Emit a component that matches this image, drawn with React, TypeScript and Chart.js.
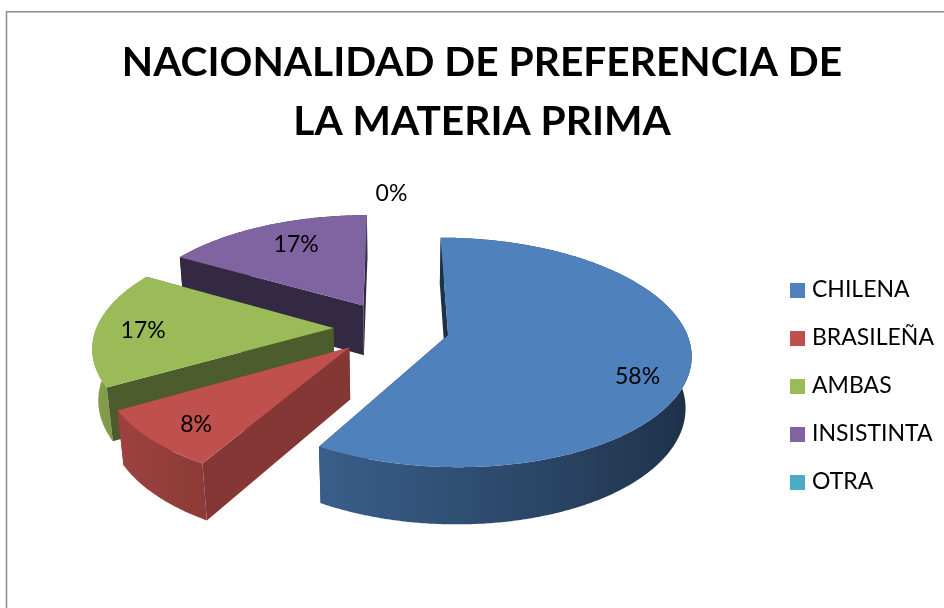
import React, { useEffect, useRef } from "react";
import { Chart, registerables } from "chart.js";

Chart.register(...registerables);

const titleLines = ["NACIONALIDAD DE PREFERENCIA DE", "LA MATERIA PRIMA"];
const categories = ["CHILENA", "BRASILEÑA", "AMBAS", "INSISTINTA", "OTRA"];
const responses = [7, 1, 2, 2, 0];
const sliceColors = ["#4f81bd", "#c0504d", "#9bbb59", "#8064a2", "#4bacc6"];

const FONT = "Lato, Carlito, Calibri, sans-serif";

// 3D view of the disc
const VIEW = { cx: 391.5, cy: 328, rx: 237, ry: 110, persp: 0.15, explode: 0.245, depth: 52, depthPersp: 0.02 };
const wallShade = [0.38, 0.69, 0.49, 0.41];
const labelRadius = [0.816, 0.82, 0.8, 0.726, 1.25];
const labelTurnDeg = [10.4, -2.4, -1.5, 2.8, 0];

function rgb(hex: string, f: number) {
  const n = parseInt(hex.slice(1), 16);
  const c = [(n >> 16) & 255, (n >> 8) & 255, n & 255].map((v) => Math.round(v * f));
  return `rgb(${c[0]},${c[1]},${c[2]})`;
}

function project(mid: number, a: number, r: number, z: number) {
  const X = VIEW.explode * Math.sin(mid) + r * Math.sin(a);
  const V = -VIEW.explode * Math.cos(mid) - r * Math.cos(a);
  const den = 1 - VIEW.persp * V + VIEW.depthPersp * z;
  return { x: VIEW.cx + (VIEW.rx * X) / den, y: VIEW.cy + (VIEW.ry * V + VIEW.depth * z) / den };
}

function poly(ctx: CanvasRenderingContext2D, pts: { x: number; y: number }[], fill: any) {
  ctx.beginPath();
  pts.forEach((p, i) => (i ? ctx.lineTo(p.x, p.y) : ctx.moveTo(p.x, p.y)));
  ctx.closePath();
  ctx.fillStyle = fill;
  ctx.fill();
}

function rimFill(ctx: CanvasRenderingContext2D, s: any, color: string) {
  const samples: { x: number; a: number }[] = [];
  const step = Math.PI / 90;
  for (let a = s.start; a <= s.end + 1e-6; a += step) {
    if (a >= Math.PI / 2 && a <= (3 * Math.PI) / 2) samples.push({ x: project(s.mid, a, 1, 1).x, a });
  }
  if (samples.length < 2) return rgb(color, 0.5);
  samples.sort((p, q) => p.x - q.x);
  const min = samples[0].x;
  const max = samples[samples.length - 1].x;
  const g = ctx.createLinearGradient(min, 0, max, 0);
  samples.forEach((p) => {
    g.addColorStop((p.x - min) / (max - min), rgb(color, 0.37 + 0.48 * ((1 - Math.sin(p.a)) / 2)));
  });
  return g;
}

const pie3d = {
  id: "pie3d",
  beforeDraw(chart: any) {
    const { ctx } = chart;
    ctx.save();
    ctx.strokeStyle = "#8c8c8c";
    ctx.lineWidth = 1.5;
    ctx.beginPath();
    ctx.moveTo(6.5, 700);
    ctx.lineTo(6.5, 11.75);
    ctx.lineTo(1000, 11.75);
    ctx.stroke();
    ctx.restore();
  },
  afterLayout(chart: any) {
    chart.legend.left = 769.5;
    chart.legend.top = 253.5;
  },
  beforeDatasetsDraw(chart: any) {
    const { ctx } = chart;
    const arcs = chart.getDatasetMeta(0).data;
    const slices = arcs.map((arc: any, i: number) => {
      const start = arc.startAngle + Math.PI / 2;
      const end = arc.endAngle + Math.PI / 2;
      return { i, start, end, mid: (start + end) / 2 };
    });
    const order = slices
      .filter((s: any) => s.end - s.start > 1e-6)
      .sort((p: any, q: any) => -Math.cos(p.mid) + Math.cos(q.mid));
    ctx.save();
    const step = Math.PI / 360;
    for (const s of order) {
      const color = sliceColors[s.i];
      const apexT = project(s.mid, 0, 0, 0);
      const apexB = project(s.mid, 0, 0, 1);
      const wall = rgb(color, wallShade[s.i]);
      poly(ctx, [apexT, project(s.mid, s.end, 1, 0), project(s.mid, s.end, 1, 1), apexB], wall);
      const rimTop: { x: number; y: number }[] = [];
      const rimBottom: { x: number; y: number }[] = [];
      const top = [apexT];
      for (let a = s.start; a < s.end; a += step) {
        rimTop.push(project(s.mid, a, 1, 0));
        rimBottom.push(project(s.mid, a, 1, 1));
        top.push(project(s.mid, a, 1, 0));
      }
      rimTop.push(project(s.mid, s.end, 1, 0));
      rimBottom.push(project(s.mid, s.end, 1, 1));
      top.push(project(s.mid, s.end, 1, 0));
      poly(ctx, [...rimTop, ...rimBottom.reverse()], rimFill(ctx, s, color));
      poly(ctx, [apexT, project(s.mid, s.start, 1, 0), project(s.mid, s.start, 1, 1), apexB], wall);
      poly(ctx, top, color);
    }
    const total = responses.reduce((p, v) => p + v, 0);
    ctx.fillStyle = "#000";
    ctx.font = `23px ${FONT}`;
    ctx.textAlign = "center";
    ctx.textBaseline = "middle";
    slices.forEach((s: any) => {
      const p = project(s.mid, s.mid + (labelTurnDeg[s.i] * Math.PI) / 180, labelRadius[s.i], 0);
      ctx.fillText(`${Math.round((responses[s.i] / total) * 100)}%`, p.x, p.y);
    });
    ctx.restore();
    return false;
  },
};

function legendSwatch(color: string) {
  const c = document.createElement("canvas");
  c.width = 15;
  c.height = 15;
  const g = c.getContext("2d")!;
  g.fillStyle = color;
  g.fillRect(0, 0, 15, 15);
  return c;
}

export default function App() {
  const ref = useRef<HTMLCanvasElement>(null);
  useEffect(() => {
    const chart = new Chart(ref.current!, {
      type: "pie",
      data: {
        labels: categories,
        datasets: [{ data: responses, backgroundColor: sliceColors, borderWidth: 0 }],
      },
      options: {
        animation: false,
        responsive: false,
        layout: { padding: { left: 20, top: 33 } },
        plugins: {
          title: {
            display: true,
            text: titleLines,
            color: "#000",
            font: { family: FONT, size: 40.7, weight: "bold", lineHeight: 1.45 },
            padding: 0,
          },
          legend: {
            position: "right",
            align: "start",
            labels: {
              usePointStyle: true,
              pointStyleWidth: 6,
              boxHeight: 15,
              padding: 25,
              color: "#000",
              font: { family: FONT, size: 23, lineHeight: 1 },
              generateLabels: (c: any) =>
                (Chart as any).overrides.doughnut.plugins.legend.labels
                  .generateLabels(c)
                  .map((item: any, i: number) => ({ ...item, pointStyle: legendSwatch(sliceColors[i]) })),
            },
          },
          tooltip: { enabled: false },
        },
      },
      plugins: [pie3d],
    } as any);
    return () => chart.destroy();
  }, []);
  return (
    <div style={{ position: "absolute", left: 0, top: 0, width: 944, height: 608, background: "#fff", overflow: "hidden" }}>
      <canvas ref={ref} width={944} height={608} style={{ display: "block" }} />
    </div>
  );
}
